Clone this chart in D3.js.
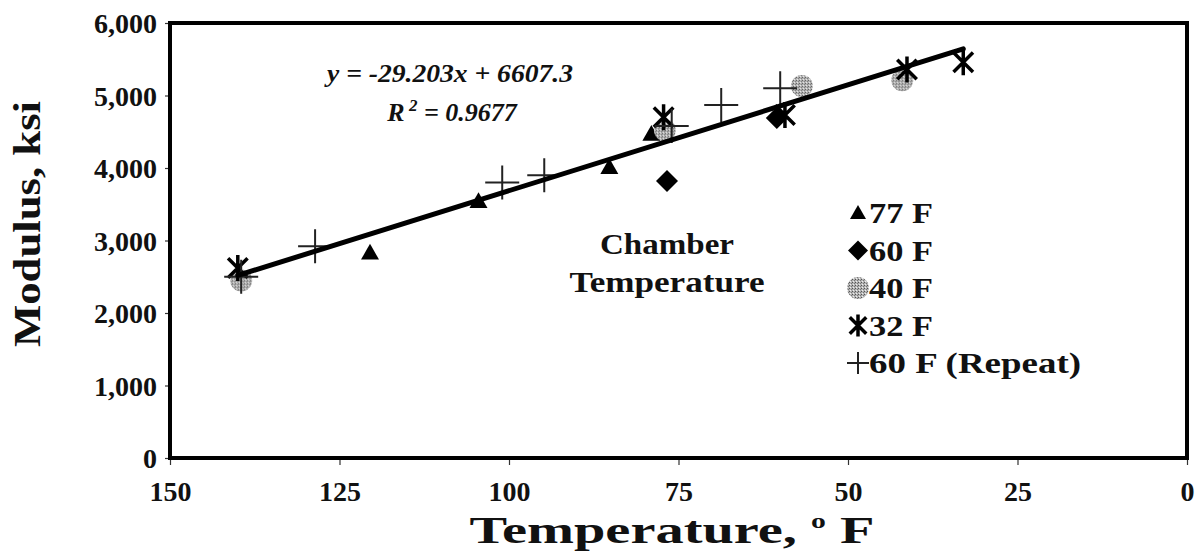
<!DOCTYPE html>
<html>
<head>
<meta charset="utf-8">
<script src="https://cdn.jsdelivr.net/npm/d3@7"></script>
<style>
  body { margin: 0; background: #fff; }
  text { font-family: "Liberation Serif", "Times New Roman", serif; font-weight: bold; fill: #111; }
</style>
</head>
<body>
<svg id="chart" width="1202" height="554"></svg>
<script>
// data: [temperature F, modulus ksi]
var s77 = [[120.5, 2830], [104.5, 3540], [85.2, 4010], [79, 4470]];
var s60 = [[76.7, 3820], [60.5, 4690]];
var s40 = [[139.5, 2450], [77, 4520], [56.8, 5130], [42, 5210]];
var s32 = [[140, 2620], [77.2, 4700], [59.3, 4730], [41.3, 5360], [33, 5460]];
var s60r = [[139.5, 2500], [128.6, 2920], [101, 3800], [94.8, 3900], [76, 4580], [68.7, 4870], [60, 5100]];

var seriesNames = ['77 F', '60 F', '40 F', '32 F', '60 F (Repeat)'];
var xTicks = [150, 125, 100, 75, 50, 25, 0];
var yTicks = [0, 1000, 2000, 3000, 4000, 5000, 6000];

// linear trend from the chart
var slope = -29.203, intercept = 6607.3, rSq = 0.9677;
var fitRange = [140, 33];

var svg = d3.select('#chart');

var x = d3.scaleLinear().domain([150, 0]).range([170, 1187]);
var y = d3.scaleLinear().domain([0, 6000]).range([458, 23]);

// dithered grey fill for the 40 F circles
var defs = svg.append('defs');
var pat = defs.append('pattern').attr('id', 'dots')
    .attr('width', 3).attr('height', 3).attr('patternUnits', 'userSpaceOnUse');
pat.append('rect').attr('width', 3).attr('height', 3).attr('fill', '#b4b4b4');
pat.append('rect').attr('x', 0).attr('y', 0).attr('width', 1).attr('height', 1).attr('fill', '#555');
pat.append('rect').attr('x', 2).attr('y', 1).attr('width', 1).attr('height', 1).attr('fill', '#777');
pat.append('rect').attr('x', 1).attr('y', 2).attr('width', 1).attr('height', 1).attr('fill', '#eee');

// axes
var xAxis = svg.append('g').attr('transform', 'translate(0,458)')
    .call(d3.axisBottom(x).tickValues(xTicks).tickSize(7).tickPadding(16).tickFormat(d3.format('d')));
var yAxis = svg.append('g').attr('transform', 'translate(170,0)')
    .call(d3.axisLeft(y).tickValues(yTicks).tickSize(5).tickPadding(8).tickFormat(d3.format(',')));
[xAxis, yAxis].forEach(function(a){
    a.select('.domain').remove();
    a.selectAll('line').attr('stroke', '#333').attr('stroke-width', 1.2);
    a.selectAll('text').attr('font-size', 28).attr('font-family', null).attr('fill', '#111');
});
yAxis.selectAll('text').attr('dy', '0.34em');

// plot frame
svg.append('rect')
    .attr('x', x(150)).attr('y', y(6000))
    .attr('width', x(0) - x(150)).attr('height', y(0) - y(6000))
    .attr('fill', 'none').attr('stroke', '#000').attr('stroke-width', 4);

// marker shapes
function tri(s){ return 'M0,' + (-s) + 'L' + s + ',' + (s * 0.75) + 'L' + (-s) + ',' + (s * 0.75) + 'Z'; }
function diamond(s){ return 'M0,' + (-s) + 'L' + s + ',0L0,' + s + 'L' + (-s) + ',0Z'; }
function star(s){ var k = s * 0.75; return 'M' + (-k) + ',' + (-k) + 'L' + k + ',' + k + 'M' + k + ',' + (-k) + 'L' + (-k) + ',' + k + 'M0,' + (-s) + 'L0,' + s; }
function plus(s){ return 'M' + (-s) + ',0L' + s + ',0M0,' + (-s) + 'L0,' + s; }

function draw(g, kind, big){
    if (kind === 0) g.append('path').attr('d', tri(big ? 9 : 8)).attr('fill', '#000');
    if (kind === 1) g.append('path').attr('d', diamond(big ? 11 : 10)).attr('fill', '#000');
    if (kind === 2) g.append('circle').attr('r', 11).attr('fill', 'url(#dots)');
    if (kind === 3) g.append('path').attr('d', star(big ? 13 : 11)).attr('stroke', '#000').attr('stroke-width', 3.5).attr('fill', 'none');
    if (kind === 4) g.append('path').attr('d', plus(big ? 17 : 11)).attr('stroke', '#222').attr('stroke-width', 2).attr('fill', 'none');
}

var allSeries = [s77, s60, s40, s32, s60r];
allSeries.forEach(function(data, i){
    svg.append('g').selectAll('g').data(data).enter().append('g')
        .attr('transform', d => 'translate(' + x(d[0]) + ',' + y(d[1]) + ')')
        .each(function(){ draw(d3.select(this), i, true); });
});

// trend line
svg.append('line')
    .attr('x1', x(fitRange[0])).attr('y1', y(slope * fitRange[0] + intercept))
    .attr('x2', x(fitRange[1])).attr('y2', y(slope * fitRange[1] + intercept))
    .attr('stroke', '#000').attr('stroke-width', 5).attr('stroke-linecap', 'round');

// equation
var eq = svg.append('g').attr('font-style', 'italic');
eq.append('text').attr('x', 450).attr('y', 82).attr('text-anchor', 'middle').attr('font-size', 26)
    .attr('font-style', 'italic').attr('textLength', 246).attr('lengthAdjust', 'spacingAndGlyphs')
    .text('y = ' + slope + 'x + ' + intercept);
var r = eq.append('text').attr('x', 452).attr('y', 121).attr('text-anchor', 'middle').attr('font-size', 26)
    .attr('font-style', 'italic');
r.append('tspan').text('R');
r.append('tspan').attr('dy', -10).attr('font-size', 17).text(' 2');
r.append('tspan').attr('dy', 10).text('  = ' + rSq);

// chamber temperature note
svg.append('text').attr('x', 667).attr('y', 254).attr('text-anchor', 'middle').attr('font-size', 29)
    .attr('textLength', 134).attr('lengthAdjust', 'spacingAndGlyphs').text('Chamber');
svg.append('text').attr('x', 667).attr('y', 292).attr('text-anchor', 'middle').attr('font-size', 29)
    .attr('textLength', 195).attr('lengthAdjust', 'spacingAndGlyphs').text('Temperature');

// legend
var leg = svg.append('g').selectAll('g').data(seriesNames).enter().append('g')
    .attr('transform', (d, i) => 'translate(858,' + (213 + i * 37.5) + ')');
leg.each(function(d, i){ draw(d3.select(this), i, false); });
leg.append('text').attr('x', 11).attr('dy', '0.35em').attr('font-size', 29)
    .attr('textLength', (d, i) => i === 4 ? 212 : 64).attr('lengthAdjust', 'spacingAndGlyphs')
    .text(d => d);

// axis titles
svg.append('text').attr('transform', 'translate(40,224) rotate(-90)').attr('text-anchor', 'middle')
    .attr('font-size', 38).attr('textLength', 246).attr('lengthAdjust', 'spacingAndGlyphs').text('Modulus, ksi');
var xt = svg.append('text').attr('x', 672).attr('y', 543).attr('text-anchor', 'middle').attr('font-size', 38)
    .attr('textLength', 405).attr('lengthAdjust', 'spacingAndGlyphs');
xt.append('tspan').text('Temperature, ');
xt.append('tspan').attr('dy', -15).attr('font-size', 20).text('o');
xt.append('tspan').attr('dy', 15).text(' F');
</script>
</body>
</html>
